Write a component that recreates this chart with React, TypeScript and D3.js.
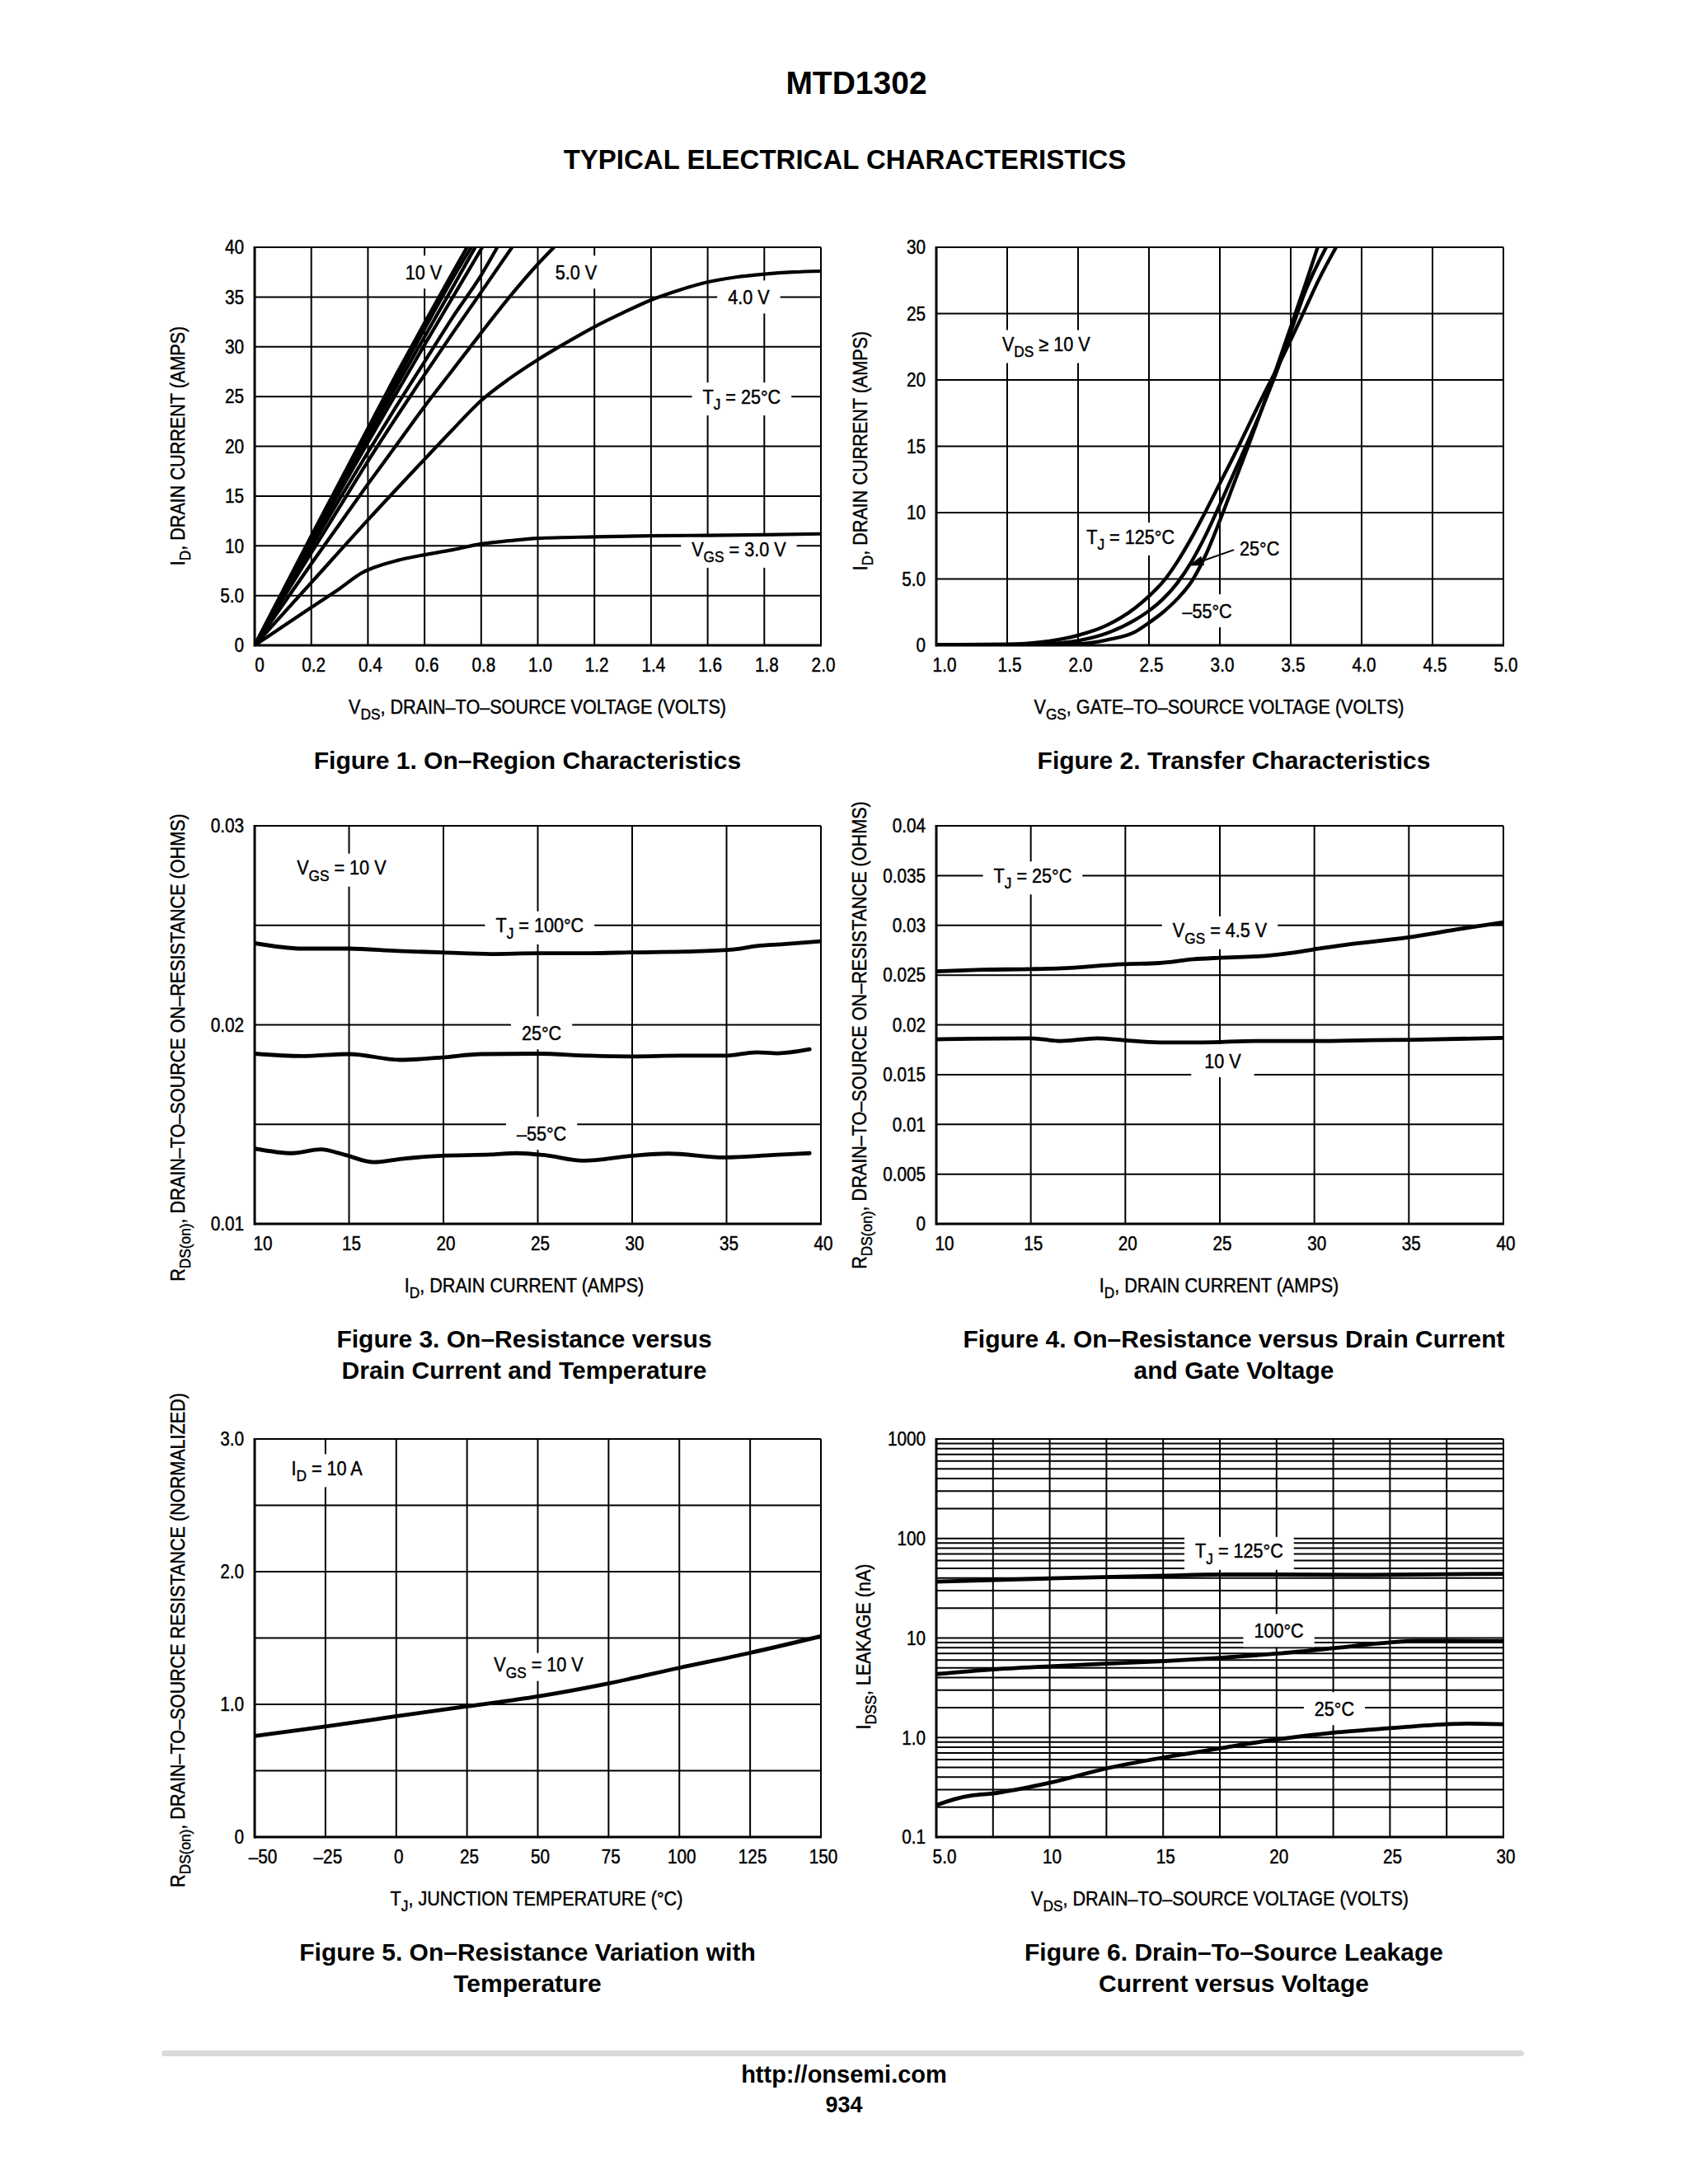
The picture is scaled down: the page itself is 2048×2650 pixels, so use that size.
import React from 'react';
import * as d3 from 'd3';

type Pt = [number, number];
type Part = { t: string; sub?: boolean };

// ---------------- Figure 1: On-Region Characteristics ----------------
const f1XTicks = [0, 0.2, 0.4, 0.6, 0.8, 1.0, 1.2, 1.4, 1.6, 1.8, 2.0];
const f1XTickLabels = ['0', '0.2', '0.4', '0.6', '0.8', '1.0', '1.2', '1.4', '1.6', '1.8', '2.0'];
const f1YTicks = [0, 5, 10, 15, 20, 25, 30, 35, 40];
const f1YTickLabels = ['0', '5.0', '10', '15', '20', '25', '30', '35', '40'];
const f1Vgs10V: Pt[] = [[0, 0], [0.1, 5.5], [0.2, 11.0], [0.3, 16.4], [0.4, 21.8], [0.5, 27.2], [0.6, 32.4], [0.7, 37.5], [0.75, 40]];
const f1Vgs9V: Pt[] = [[0, 0], [0.1, 5.4], [0.2, 10.8], [0.3, 16.1], [0.4, 21.4], [0.5, 26.6], [0.6, 31.8], [0.7, 36.9], [0.765, 40]];
const f1Vgs8V: Pt[] = [[0, 0], [0.1, 5.3], [0.2, 10.6], [0.3, 15.8], [0.4, 20.9], [0.5, 26.0], [0.6, 31.0], [0.7, 36.0], [0.779, 40]];
const f1Vgs7V: Pt[] = [[0, 0], [0.1, 5.2], [0.2, 10.3], [0.3, 15.4], [0.4, 20.4], [0.5, 25.3], [0.6, 30.2], [0.7, 35.0], [0.804, 40]];
const f1Vgs6V: Pt[] = [[0, 0], [0.1, 5.0], [0.2, 9.9], [0.3, 14.7], [0.4, 19.4], [0.5, 24.0], [0.6, 28.5], [0.7, 33.0], [0.8, 37.2], [0.857, 40]];
const f1Vgs5p5V: Pt[] = [[0, 0], [0.1, 4.7], [0.2, 9.3], [0.3, 13.9], [0.4, 18.5], [0.5, 22.9], [0.6, 27.2], [0.7, 31.4], [0.8, 35.5], [0.909, 40]];
const f1Vgs5V: Pt[] = [[0, 0], [0.1, 4.1], [0.2, 8.2], [0.3, 12.2], [0.4, 16.2], [0.5, 20.1], [0.6, 24.0], [0.7, 27.7], [0.8, 31.4], [0.9, 35.0], [1.0, 38.3], [1.057, 40]];
const f1Vgs4V: Pt[] = [[0, 0], [0.2, 6.3], [0.4, 12.6], [0.6, 18.7], [0.7, 21.7], [0.8, 24.6], [0.9, 26.8], [1.0, 28.7], [1.1, 30.4], [1.2, 32.0], [1.3, 33.4], [1.4, 34.7], [1.5, 35.7], [1.6, 36.5], [1.7, 37.0], [1.8, 37.3], [1.9, 37.5], [2.0, 37.6]];
const f1Vgs3V: Pt[] = [[0, 0], [0.1, 1.9], [0.2, 3.8], [0.3, 5.7], [0.38, 7.3], [0.42, 7.8], [0.5, 8.5], [0.6, 9.1], [0.7, 9.6], [0.8, 10.2], [0.9, 10.5], [1.0, 10.75], [1.2, 10.9], [1.4, 11.0], [1.6, 11.05], [1.8, 11.1], [2.0, 11.2]];

// ---------------- Figure 2: Transfer Characteristics ----------------
const f2XTicks = [1.0, 1.5, 2.0, 2.5, 3.0, 3.5, 4.0, 4.5, 5.0];
const f2XTickLabels = ['1.0', '1.5', '2.0', '2.5', '3.0', '3.5', '4.0', '4.5', '5.0'];
const f2YTicks = [0, 5, 10, 15, 20, 25, 30];
const f2YTickLabels = ['0', '5.0', '10', '15', '20', '25', '30'];
const f2Tj125: Pt[] = [[1.0, 0.05], [1.5, 0.08], [1.75, 0.25], [2.0, 0.75], [2.2, 1.5], [2.4, 2.8], [2.5, 3.7], [2.6, 4.8], [2.7, 6.3], [2.8, 8.1], [2.9, 10.1], [3.0, 12.2], [3.1, 14.3], [3.2, 16.5], [3.3, 18.7], [3.4, 20.8], [3.5, 23.0], [3.6, 25.3], [3.7, 27.6], [3.82, 30]];
const f2Tj25: Pt[] = [[1.0, 0.05], [1.5, 0.05], [1.75, 0.1], [2.0, 0.35], [2.2, 0.9], [2.4, 1.9], [2.5, 2.6], [2.6, 3.5], [2.7, 4.7], [2.8, 6.3], [2.9, 8.3], [3.0, 10.6], [3.1, 13.0], [3.2, 15.4], [3.3, 17.9], [3.4, 20.6], [3.5, 23.6], [3.6, 26.6], [3.75, 30]];
const f2TjM55: Pt[] = [[1.0, 0.05], [1.5, 0.05], [1.75, 0.05], [2.0, 0.1], [2.2, 0.4], [2.4, 1.0], [2.5, 1.7], [2.6, 2.5], [2.7, 3.5], [2.8, 4.8], [2.9, 6.8], [3.0, 9.4], [3.1, 12.2], [3.2, 15.0], [3.3, 17.9], [3.4, 20.9], [3.5, 24.0], [3.6, 27.1], [3.69, 30]];

// ---------------- Figure 3: On-Resistance vs Drain Current and Temperature ----------------
const f3XTicks = [10, 15, 20, 25, 30, 35, 40];
const f3XTickLabels = ['10', '15', '20', '25', '30', '35', '40'];
const f3YGrid = [0.01, 0.015, 0.02, 0.025, 0.03];
const f3YTicks = [0.01, 0.02, 0.03];
const f3YTickLabels = ['0.01', '0.02', '0.03'];
const f3Tj100: Pt[] = [[10, 0.0241], [12.5, 0.02383], [15, 0.02383], [17.6, 0.02371], [19.9, 0.02364], [22.5, 0.02356], [25, 0.0236], [27.7, 0.0236], [30, 0.02364], [32.8, 0.02368], [35.2, 0.02377], [36.6, 0.02396], [38, 0.02405], [40, 0.0242]];
const f3Tj25: Pt[] = [[10, 0.01855], [12.5, 0.01843], [15, 0.01853], [17.7, 0.01824], [19.9, 0.01836], [22, 0.01853], [25, 0.01855], [27.7, 0.01845], [30, 0.01841], [32.6, 0.01845], [34.9, 0.01845], [36.6, 0.01862], [37.7, 0.01857], [39.4, 0.01877]];
const f3TjM55: Pt[] = [[10, 0.01378], [12, 0.01355], [13.5, 0.01374], [14.8, 0.01346], [16.3, 0.0131], [17.8, 0.01327], [19.9, 0.01342], [22.5, 0.01348], [23.9, 0.01355], [25.3, 0.01346], [27.4, 0.01317], [30, 0.01342], [31.9, 0.01353], [34.9, 0.01334], [37.5, 0.01346], [39.4, 0.01355]];

// ---------------- Figure 4: On-Resistance vs Drain Current and Gate Voltage ----------------
const f4XTicks = [10, 15, 20, 25, 30, 35, 40];
const f4XTickLabels = ['10', '15', '20', '25', '30', '35', '40'];
const f4YTicks = [0, 0.005, 0.01, 0.015, 0.02, 0.025, 0.03, 0.035, 0.04];
const f4YTickLabels = ['0', '0.005', '0.01', '0.015', '0.02', '0.025', '0.03', '0.035', '0.04'];
const f4Vgs4p5: Pt[] = [[10, 0.02538], [12.4, 0.02553], [15, 0.0256], [16.6, 0.02568], [19.9, 0.0261], [21.8, 0.02621], [23.6, 0.02659], [25, 0.02674], [27.4, 0.02693], [29, 0.02727], [30.2, 0.02765], [31.6, 0.02803], [34.9, 0.02876], [37.7, 0.02963], [40, 0.03031]];
const f4Vgs10: Pt[] = [[10, 0.01854], [11.9, 0.01861], [15, 0.01865], [16.6, 0.01838], [18.5, 0.01865], [19.9, 0.01846], [21.8, 0.01823], [24.1, 0.01823], [26.9, 0.01838], [30.2, 0.01838], [33, 0.01846], [35.3, 0.0185], [40, 0.01869]];

// ---------------- Figure 5: On-Resistance Variation with Temperature ----------------
const f5XTicks = [-50, -25, 0, 25, 50, 75, 100, 125, 150];
const f5XTickLabels = ['–50', '–25', '0', '25', '50', '75', '100', '125', '150'];
const f5YGrid = [0, 0.5, 1.0, 1.5, 2.0, 2.5, 3.0];
const f5YTicks = [0, 1.0, 2.0, 3.0];
const f5YTickLabels = ['0', '1.0', '2.0', '3.0'];
const f5Vgs10: Pt[] = [[-50, 0.761], [-25, 0.833], [0, 0.91], [25, 0.985], [50, 1.06], [75, 1.158], [100, 1.275], [125, 1.388], [150, 1.513]];

// ---------------- Figure 6: Drain-To-Source Leakage Current vs Voltage ----------------
const f6XGrid = [5, 7.5, 10, 12.5, 15, 17.5, 20, 22.5, 25, 27.5, 30];
const f6XTicks = [5, 10, 15, 20, 25, 30];
const f6XTickLabels = ['5.0', '10', '15', '20', '25', '30'];
const f6YTicks = [0.1, 1, 10, 100, 1000];
const f6YTickLabels = ['0.1', '1.0', '10', '100', '1000'];
const f6Tj125: Pt[] = [[5, 36.9], [10, 39.7], [15, 42.2], [17.5, 43.4], [20, 43.4], [24, 43.0], [30, 44.2]];
const f6Tj100: Pt[] = [[5, 4.34], [7.5, 4.83], [10, 5.19], [12.5, 5.53], [15, 5.84], [17.5, 6.32], [20, 6.97], [22.5, 7.89], [25, 9.02], [26.3, 9.35], [27.5, 9.35], [30, 9.27]];
const f6Tj25: Pt[] = [[5, 0.209], [5.8, 0.24], [6.6, 0.262], [7.5, 0.274], [8.5, 0.299], [10, 0.351], [12.5, 0.489], [15, 0.628], [17.5, 0.778], [20, 0.955], [22.5, 1.12], [25, 1.24], [27.5, 1.36], [28.4, 1.38], [30, 1.36]];

// ---------------- styling ----------------
const FONT = "'Liberation Sans', Arial, Helvetica, sans-serif";
const SX = 0.9;
const TICK = 23;
const LBL = 24;
const SUBR = 0.8;
const GRID = 2;
const TXT_STROKE = 0.45;

let _ctx: CanvasRenderingContext2D | null = null;
function partsWidth(parts: Part[], size: number): number {
  if (!_ctx && typeof document !== 'undefined') _ctx = document.createElement('canvas').getContext('2d');
  let w = 0;
  for (const p of parts) {
    const s = p.sub ? size * SUBR : size;
    if (_ctx) {
      _ctx.font = `${s}px ${FONT}`;
      w += _ctx.measureText(p.t).width;
    } else w += p.t.length * s * 0.55;
  }
  return w * SX;
}

function Rich({ x, y, parts, size, anchor = 'middle', rotate = 0 }: { x: number; y: number; parts: Part[]; size: number; anchor?: string; rotate?: number }) {
  let shift = 0;
  const spans = parts.map((p, i) => {
    const target = p.sub ? size * 0.3 : 0;
    const dy = target - shift;
    shift = target;
    return (
      <tspan key={i} fontSize={p.sub ? size * SUBR : size} dy={dy}>
        {p.t}
      </tspan>
    );
  });
  return (
    <text transform={`translate(${x},${y}) rotate(${rotate}) scale(${SX},1)`} textAnchor={anchor as any} fontFamily={FONT} fontSize={size} fill="#000" stroke="#000" strokeWidth={TXT_STROKE}>
      {spans}
    </text>
  );
}

type Lbl = { x: number; y: number; parts: Part[]; padX?: number; boxH?: number };

type PanelProps = {
  id: string;
  left: number; top: number; width: number; height: number;
  xDomain: [number, number]; yDomain: [number, number]; yLog?: boolean;
  xGrid: number[]; yGrid: number[];
  xTicks: number[]; xTickLabels: string[];
  yTicks: number[]; yTickLabels: string[];
  series: Pt[][]; curveW: number;
  labels: Lbl[];
  arrow?: { from: Pt; to: Pt };
  xTitle: Part[]; xTitleX: number;
  yTitle: Part[]; yTitleX: number; yTitleY: number;
  caption: string[]; captionX: number;
  firstXOff?: number;
};

function Panel(p: PanelProps) {
  const L = p.left, T = p.top, R = p.left + p.width, B = p.top + p.height;
  const x = d3.scaleLinear().domain(p.xDomain).range([L, R]);
  const y: any = p.yLog ? d3.scaleLog().domain(p.yDomain).range([B, T]) : d3.scaleLinear().domain(p.yDomain).range([B, T]);
  const line = d3.line<Pt>().x(d => x(d[0])).y(d => y(d[1])).curve(d3.curveMonotoneX);
  const clipId = `clip-${p.id}`;

  let arrowEl: React.ReactNode = null;
  if (p.arrow) {
    const x1 = x(p.arrow.from[0]), y1 = y(p.arrow.from[1]);
    const x2 = x(p.arrow.to[0]), y2 = y(p.arrow.to[1]);
    const a = Math.atan2(y2 - y1, x2 - x1);
    const hl = 18, hw = 6;
    const bx = x2 - hl * Math.cos(a), by = y2 - hl * Math.sin(a);
    const px = -Math.sin(a) * hw, py = Math.cos(a) * hw;
    arrowEl = (
      <g>
        <line x1={x1} y1={y1} x2={bx} y2={by} stroke="#000" strokeWidth={2} />
        <polygon points={`${x2},${y2} ${bx + px},${by + py} ${bx - px},${by - py}`} fill="#000" />
      </g>
    );
  }

  return (
    <g>
      <defs>
        <clipPath id={clipId}>
          <rect x={L} y={T} width={p.width} height={p.height} />
        </clipPath>
      </defs>
      {p.xGrid.map(v => (
        <line key={'gx' + v} x1={x(v)} x2={x(v)} y1={T} y2={B} stroke="#000" strokeWidth={GRID} />
      ))}
      {p.yGrid.map(v => (
        <line key={'gy' + v} x1={L} x2={R} y1={y(v)} y2={y(v)} stroke="#000" strokeWidth={GRID} />
      ))}
      {p.labels.map((l, i) => {
        const w = partsWidth(l.parts, LBL) + 2 * (l.padX ?? 13);
        const cx = x(l.x), cy = y(l.y);
        const hasSub = l.parts.some(q => q.sub);
        const bh = l.boxH ?? 40;
        return <rect key={'lb' + i} x={cx - w / 2} y={cy - bh / 2 + (hasSub ? 3 : 0)} width={w} height={bh} fill="#fff" />;
      })}
      <g clipPath={`url(#${clipId})`}>
        {p.series.map((s, i) => (
          <path key={'s' + i} d={line(s) || ''} fill="none" stroke="#000" strokeWidth={p.curveW} strokeLinejoin="round" strokeLinecap="round" />
        ))}
      </g>
      {arrowEl}
      {p.labels.map((l, i) => (
        <Rich key={'lt' + i} x={x(l.x)} y={y(l.y) + 0.36 * LBL} parts={l.parts} size={LBL} />
      ))}
      <line x1={L} x2={R} y1={T} y2={T} stroke="#000" strokeWidth={2} />
      <line x1={R} x2={R} y1={T} y2={B} stroke="#000" strokeWidth={2} />
      <line x1={L} x2={L} y1={T - 1} y2={B + 1.5} stroke="#000" strokeWidth={3} />
      <line x1={L} x2={R + 1} y1={B} y2={B} stroke="#000" strokeWidth={3} />
      {p.xTicks.map((v, i) => (
        <Rich key={'xt' + v} x={x(v) + (i === 0 ? (p.firstXOff ?? 10) : 3)} y={B + 32} parts={[{ t: p.xTickLabels[i] }]} size={TICK} />
      ))}
      {p.yTicks.map((v, i) => (
        <Rich key={'yt' + v} x={L - 13} y={y(v) + 0.36 * TICK} parts={[{ t: p.yTickLabels[i] }]} size={TICK} anchor="end" />
      ))}
      <Rich x={p.xTitleX} y={B + 83} parts={p.xTitle} size={LBL} />
      <Rich x={p.yTitleX} y={p.yTitleY} parts={p.yTitle} size={LBL} rotate={-90} />
      {p.caption.map((c, i) => (
        <text key={'cap' + i} x={p.captionX} y={B + 150 + i * 37.5} textAnchor="middle" fontFamily={FONT} fontWeight="bold" fontSize={30} fill="#000">
          {c}
        </text>
      ))}
    </g>
  );
}

const LC = { left: 309, width: 687 };
const RC = { left: 1136, width: 688 };
const ROW1 = { top: 300, height: 483 };
const ROW2 = { top: 1002, height: 483 };
const ROW3 = { top: 1746, height: 483 };

const vdsTitle: Part[] = [{ t: 'V' }, { t: 'DS', sub: true }, { t: ', DRAIN–TO–SOURCE VOLTAGE (VOLTS)' }];
const idTitle: Part[] = [{ t: 'I' }, { t: 'D', sub: true }, { t: ', DRAIN CURRENT (AMPS)' }];
const rdsTitle: Part[] = [{ t: 'R' }, { t: 'DS(on)', sub: true }, { t: ', DRAIN–TO–SOURCE ON–RESISTANCE (OHMS)' }];

function logGrid(): number[] {
  const g: number[] = [];
  for (const k of [0.1, 1, 10, 100]) for (let m = 1; m <= 9; m++) g.push(m * k);
  g.push(1000);
  return g;
}

export default function App() {
  return (
    <svg width={2048} height={2650} viewBox="0 0 2048 2650" style={{ position: 'absolute', left: 0, top: 0, background: '#fff' }}>
      <rect x={0} y={0} width={2048} height={2650} fill="#fff" />
      <text x={1039} y={114} textAnchor="middle" fontFamily={FONT} fontWeight="bold" fontSize={39} fill="#000">MTD1302</text>
      <text x={1025} y={205} textAnchor="middle" fontFamily={FONT} fontWeight="bold" fontSize={33} fill="#000">TYPICAL ELECTRICAL CHARACTERISTICS</text>

      <Panel
        id="f1" {...LC} {...ROW1}
        xDomain={[0, 2]} yDomain={[0, 40]}
        xGrid={f1XTicks} yGrid={f1YTicks}
        xTicks={f1XTicks} xTickLabels={f1XTickLabels}
        yTicks={f1YTicks} yTickLabels={f1YTickLabels}
        series={[f1Vgs10V, f1Vgs9V, f1Vgs8V, f1Vgs7V, f1Vgs6V, f1Vgs5p5V, f1Vgs5V, f1Vgs4V, f1Vgs3V]} curveW={4.2}
        labels={[
          { x: 0.597, y: 37.5, parts: [{ t: '10 V' }] },
          { x: 1.135, y: 37.5, parts: [{ t: '5.0 V' }] },
          { x: 1.745, y: 35, parts: [{ t: '4.0 V' }] },
          { x: 1.72, y: 25, parts: [{ t: 'T' }, { t: 'J', sub: true }, { t: ' = 25°C' }] },
          { x: 1.71, y: 9.7, parts: [{ t: 'V' }, { t: 'GS', sub: true }, { t: ' = 3.0 V' }] },
        ]}
        xTitle={vdsTitle} xTitleX={652}
        yTitle={idTitle} yTitleX={224} yTitleY={541}
        caption={['Figure 1. On–Region Characteristics']} captionX={640}
        firstXOff={6}
      />

      <Panel
        id="f2" {...RC} {...ROW1}
        xDomain={[1, 5]} yDomain={[0, 30]}
        xGrid={f2XTicks} yGrid={f2YTicks}
        xTicks={f2XTicks} xTickLabels={f2XTickLabels}
        yTicks={f2YTicks} yTickLabels={f2YTickLabels}
        series={[f2Tj125, f2Tj25, f2TjM55]} curveW={4.3}
        labels={[
          { x: 1.775, y: 22.7, parts: [{ t: 'V' }, { t: 'DS', sub: true }, { t: ' ≥ 10 V' }] },
          { x: 2.37, y: 8.2, parts: [{ t: 'T' }, { t: 'J', sub: true }, { t: ' = 125°C' }], padX: 8 },
          { x: 3.28, y: 7.3, parts: [{ t: '25°C' }], padX: 8 },
          { x: 2.91, y: 2.6, parts: [{ t: '–55°C' }], padX: 8 },
        ]}
        arrow={{ from: [3.1, 7.2], to: [2.78, 6.0] }}
        xTitle={[{ t: 'V' }, { t: 'GS', sub: true }, { t: ', GATE–TO–SOURCE VOLTAGE (VOLTS)' }]} xTitleX={1479}
        yTitle={idTitle} yTitleX={1052} yTitleY={547}
        caption={['Figure 2. Transfer Characteristics']} captionX={1497}
      />

      <Panel
        id="f3" {...LC} {...ROW2}
        xDomain={[10, 40]} yDomain={[0.01, 0.03]}
        xGrid={f3XTicks} yGrid={f3YGrid}
        xTicks={f3XTicks} xTickLabels={f3XTickLabels}
        yTicks={f3YTicks} yTickLabels={f3YTickLabels}
        series={[f3Tj100, f3Tj25, f3TjM55]} curveW={4.8}
        labels={[
          { x: 14.6, y: 0.0279, parts: [{ t: 'V' }, { t: 'GS', sub: true }, { t: ' = 10 V' }] },
          { x: 25.1, y: 0.025, parts: [{ t: 'T' }, { t: 'J', sub: true }, { t: ' = 100°C' }] },
          { x: 25.2, y: 0.0196, parts: [{ t: '25°C' }] },
          { x: 25.2, y: 0.01455, parts: [{ t: '–55°C' }] },
        ]}
        xTitle={idTitle} xTitleX={636}
        yTitle={rdsTitle} yTitleX={224} yTitleY={1271}
        caption={['Figure 3. On–Resistance versus', 'Drain Current and Temperature']} captionX={636}
      />

      <Panel
        id="f4" {...RC} {...ROW2}
        xDomain={[10, 40]} yDomain={[0, 0.04]}
        xGrid={f4XTicks} yGrid={f4YTicks}
        xTicks={f4XTicks} xTickLabels={f4XTickLabels}
        yTicks={f4YTicks} yTickLabels={f4YTickLabels}
        series={[f4Vgs4p5, f4Vgs10]} curveW={4.8}
        labels={[
          { x: 15.1, y: 0.035, parts: [{ t: 'T' }, { t: 'J', sub: true }, { t: ' = 25°C' }] },
          { x: 25.0, y: 0.0295, parts: [{ t: 'V' }, { t: 'GS', sub: true }, { t: ' = 4.5 V' }] },
          { x: 25.15, y: 0.0164, parts: [{ t: '10 V' }], padX: 16 },
        ]}
        xTitle={idTitle} xTitleX={1479}
        yTitle={rdsTitle} yTitleX={1051} yTitleY={1256}
        caption={['Figure 4. On–Resistance versus Drain Current', 'and Gate Voltage']} captionX={1497}
      />

      <Panel
        id="f5" {...LC} {...ROW3}
        xDomain={[-50, 150]} yDomain={[0, 3]}
        xGrid={f5XTicks} yGrid={f5YGrid}
        xTicks={f5XTicks} xTickLabels={f5XTickLabels}
        yTicks={f5YTicks} yTickLabels={f5YTickLabels}
        series={[f5Vgs10]} curveW={4.8}
        labels={[
          { x: -24.5, y: 2.78, parts: [{ t: 'I' }, { t: 'D', sub: true }, { t: ' = 10 A' }] },
          { x: 50.3, y: 1.3, parts: [{ t: 'V' }, { t: 'GS', sub: true }, { t: ' = 10 V' }], boxH: 34 },
        ]}
        xTitle={[{ t: 'T' }, { t: 'J', sub: true }, { t: ', JUNCTION TEMPERATURE (°C)' }]} xTitleX={651}
        yTitle={[{ t: 'R' }, { t: 'DS(on)', sub: true }, { t: ', DRAIN–TO–SOURCE RESISTANCE (NORMALIZED)' }]} yTitleX={224} yTitleY={1990}
        caption={['Figure 5. On–Resistance Variation with', 'Temperature']} captionX={640}
      />

      <Panel
        id="f6" {...RC} {...ROW3}
        xDomain={[5, 30]} yDomain={[0.1, 1000]} yLog
        xGrid={f6XGrid} yGrid={logGrid()}
        xTicks={f6XTicks} xTickLabels={f6XTickLabels}
        yTicks={f6YTicks} yTickLabels={f6YTickLabels}
        series={[f6Tj125, f6Tj100, f6Tj25]} curveW={4.8}
        labels={[
          { x: 18.35, y: 75, parts: [{ t: 'T' }, { t: 'J', sub: true }, { t: ' = 125°C' }] },
          { x: 20.1, y: 11.9, parts: [{ t: '100°C' }] },
          { x: 22.55, y: 1.95, parts: [{ t: '25°C' }] },
        ]}
        xTitle={vdsTitle} xTitleX={1480}
        yTitle={[{ t: 'I' }, { t: 'DSS', sub: true }, { t: ', LEAKAGE (nA)' }]} yTitleX={1056} yTitleY={1998}
        caption={['Figure 6. Drain–To–Source Leakage', 'Current versus Voltage']} captionX={1497}
      />

      <rect x={196} y={2488} width={1653} height={7} rx={3.5} fill="#d9d9d9" />
      <text x={1024} y={2527} textAnchor="middle" fontFamily={FONT} fontWeight="bold" fontSize={29} fill="#000">http://onsemi.com</text>
      <text x={1024} y={2563} textAnchor="middle" fontFamily={FONT} fontWeight="bold" fontSize={27} fill="#000">934</text>
    </svg>
  );
}
